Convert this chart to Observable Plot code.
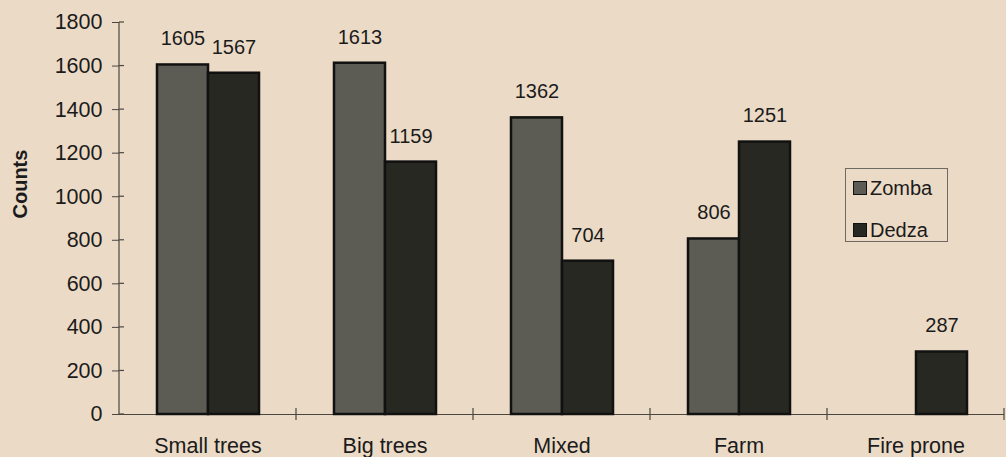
<!DOCTYPE html>
<html>
<head>
<meta charset="utf-8">
<script src="https://cdn.jsdelivr.net/npm/d3@7"></script>
<script src="https://cdn.jsdelivr.net/npm/@observablehq/plot@0.6"></script>
<style>
  html, body { margin: 0; padding: 0; background: #ebdac6; }
  #chart { position: relative; width: 1006px; height: 457px; font-family: "Liberation Sans", Arial, sans-serif; color: #1b1b1b; }
  #chart svg { display: block; }
  .legend { position: absolute; left: 845px; top: 168px; width: 103px; height: 74px; border: 1px solid #6e6a62; box-sizing: border-box; }
  .legend .item { position: absolute; left: 7px; height: 24px; display: flex; align-items: center; font-size: 20px; }
  .legend .sw { width: 12px; height: 12px; border: 1.5px solid #111; margin-right: 3px; }
</style>
</head>
<body>
<div id="chart"></div>
<script>
// Vegetation classes and counts per district
const categories = ["Small trees", "Big trees", "Mixed", "Farm", "Fire prone"];
const seriesNames = ["Zomba", "Dedza"];
const zombaCounts = [1605, 1613, 1362, 806, null];
const dedzaCounts = [1567, 1159, 704, 1251, 287];
const yTicks = [0, 200, 400, 600, 800, 1000, 1200, 1400, 1600, 1800];
const seriesColors = ["#5c5c54", "#282822"];

const rows = categories.flatMap((category, i) => [
  {category, series: "Zomba", value: zombaCounts[i]},
  {category, series: "Dedza", value: dedzaCounts[i]}
]).filter(d => d.value != null);

const axisColor = "#4a4740";

const plot = Plot.plot({
  width: 1006,
  height: 457,
  marginLeft: 117,
  marginRight: 0,
  marginTop: 22,
  marginBottom: 43,
  style: {background: "transparent", fontFamily: '"Liberation Sans", Arial, sans-serif', fontSize: "20px", color: "#1b1b1b", overflow: "visible"},
  fx: {domain: categories, padding: 0, label: null},
  x: {domain: seriesNames, paddingInner: 0, paddingOuter: 0.71, axis: null},
  y: {domain: [0, 1800], label: null},
  color: {domain: seriesNames, range: seriesColors},
  marks: [
    Plot.ruleY([0], {stroke: axisColor, strokeWidth: 1.2}),
    Plot.barY(rows, {fx: "category", x: "series", y: "value", fill: "series", stroke: "#111", strokeWidth: 2.5}),
    Plot.text(rows, {fx: "category", x: "series", y: "value", text: d => String(d.value), dy: -26, fontSize: 20, fill: "#1b1b1b"}),
    Plot.axisY({ticks: yTicks, tickFormat: d => String(d), tickSize: 7, tickPadding: 10, label: null, fontSize: 21.5, stroke: axisColor}),
    Plot.axisFx({anchor: "bottom", tickSize: 0, tickPadding: 23, label: null, fontSize: 21.5}),
    Plot.text(["Counts"], {fx: () => categories[0], frameAnchor: "left", dx: -99, rotate: -90, fontWeight: "bold", fontSize: 20, fill: "#1b1b1b"})
  ]
});

// Axis spine, right-hand tick stubs and category divider ticks
const svg = d3.select(plot);
const y = plot.scale("y");
const fx = plot.scale("fx");
const left = fx.apply(categories[0]);
const g = svg.append("g").attr("stroke", axisColor).attr("stroke-width", 1.2);
g.append("line").attr("x1", left).attr("x2", left).attr("y1", y.apply(1800)).attr("y2", y.apply(0));
for (const v of yTicks) {
  g.append("line").attr("x1", left).attr("x2", left + 5).attr("y1", y.apply(v)).attr("y2", y.apply(v));
}
const dividers = categories.slice(1).map(c => fx.apply(c)).concat(fx.apply(categories[categories.length - 1]) + fx.bandwidth);
for (const xv of dividers) {
  g.append("line").attr("x1", xv).attr("x2", xv).attr("y1", y.apply(0) - 6).attr("y2", y.apply(0) + 6);
}

const chart = document.getElementById("chart");
chart.appendChild(plot);

// Legend box
const legend = document.createElement("div");
legend.className = "legend";
seriesNames.forEach((name, i) => {
  const item = document.createElement("div");
  item.className = "item";
  item.style.top = (7 + i * 42) + "px";
  const sw = document.createElement("span");
  sw.className = "sw";
  sw.style.background = seriesColors[i];
  item.appendChild(sw);
  item.appendChild(document.createTextNode(name));
  legend.appendChild(item);
});
chart.appendChild(legend);
</script>
</body>
</html>
